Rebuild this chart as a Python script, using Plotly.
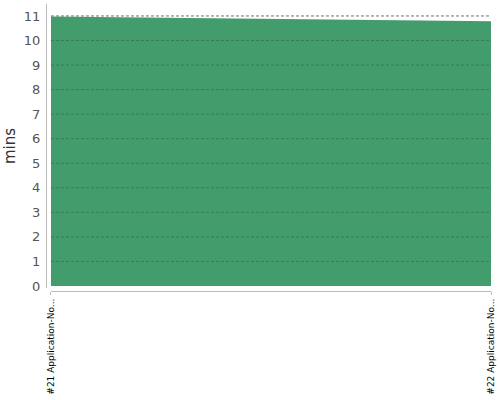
import plotly.graph_objects as go

# build durations (minutes) for the two builds shown
builds = ["#21 Application-No...", "#22 Application-No..."]
durations = [10.98, 10.78]
positions = [0, 1]
ytick_vals = list(range(0, 12))

fig = go.Figure()

fig.add_trace(go.Scatter(
    x=positions, y=durations,
    mode="lines",
    fill="tozeroy",
    fillcolor="#439c6b",
    line=dict(width=0, color="#439c6b"),
    hoverinfo="skip",
    showlegend=False,
))

# dashed grid: gray under the area, faint on top of it (no line at 0)
for v in ytick_vals[1:]:
    fig.add_shape(type="line", xref="x domain", yref="y",
                  x0=0, x1=1, y0=v, y1=v, layer="below",
                  line=dict(color="#999999", width=1, dash="3px,2px"))
    fig.add_shape(type="line", xref="x domain", yref="y",
                  x0=0, x1=1, y0=v, y1=v, layer="above",
                  line=dict(color="rgba(0,0,0,0.2)", width=1, dash="3px,2px"))

fig.update_layout(
    width=500, height=400,
    margin=dict(l=46, r=9, t=4, b=109, autoexpand=False),
    paper_bgcolor="white",
    plot_bgcolor="white",
    font=dict(family="DejaVu Sans", color="#444444"),
    xaxis=dict(
        domain=[0.0112, 1],
        range=[0, 1],
        tickvals=positions,
        ticktext=builds,
        tickangle=-90,
        tickfont=dict(size=9, color="black"),
        showgrid=False,
        zeroline=False,
        showline=True,
        linecolor="#bbbbbb",
        linewidth=1,
        ticks="outside",
        ticklen=3,
        tickcolor="#bbbbbb",
        anchor="free",
        position=0,
        automargin=False,
    ),
    yaxis=dict(
        domain=[0.0105, 1],
        range=[-0.081, 11.487],
        tickvals=ytick_vals,
        tickfont=dict(size=13, color="#555555"),
        showgrid=False,
        zeroline=False,
        showline=True,
        linecolor="#bbbbbb",
        linewidth=1,
        ticks="outside",
        ticklen=3,
        tickcolor="white",
        anchor="free",
        position=0,
        automargin=False,
        title=dict(text="mins", font=dict(size=15, color="#333333"), standoff=3),
    ),
)

# page has a default 8px body margin, drop it so the chart sits at 0,0
fig.write_html("out.html", config={"displayModeBar": False},
               post_script="document.body.style.margin='0';document.body.style.overflow='hidden';")
